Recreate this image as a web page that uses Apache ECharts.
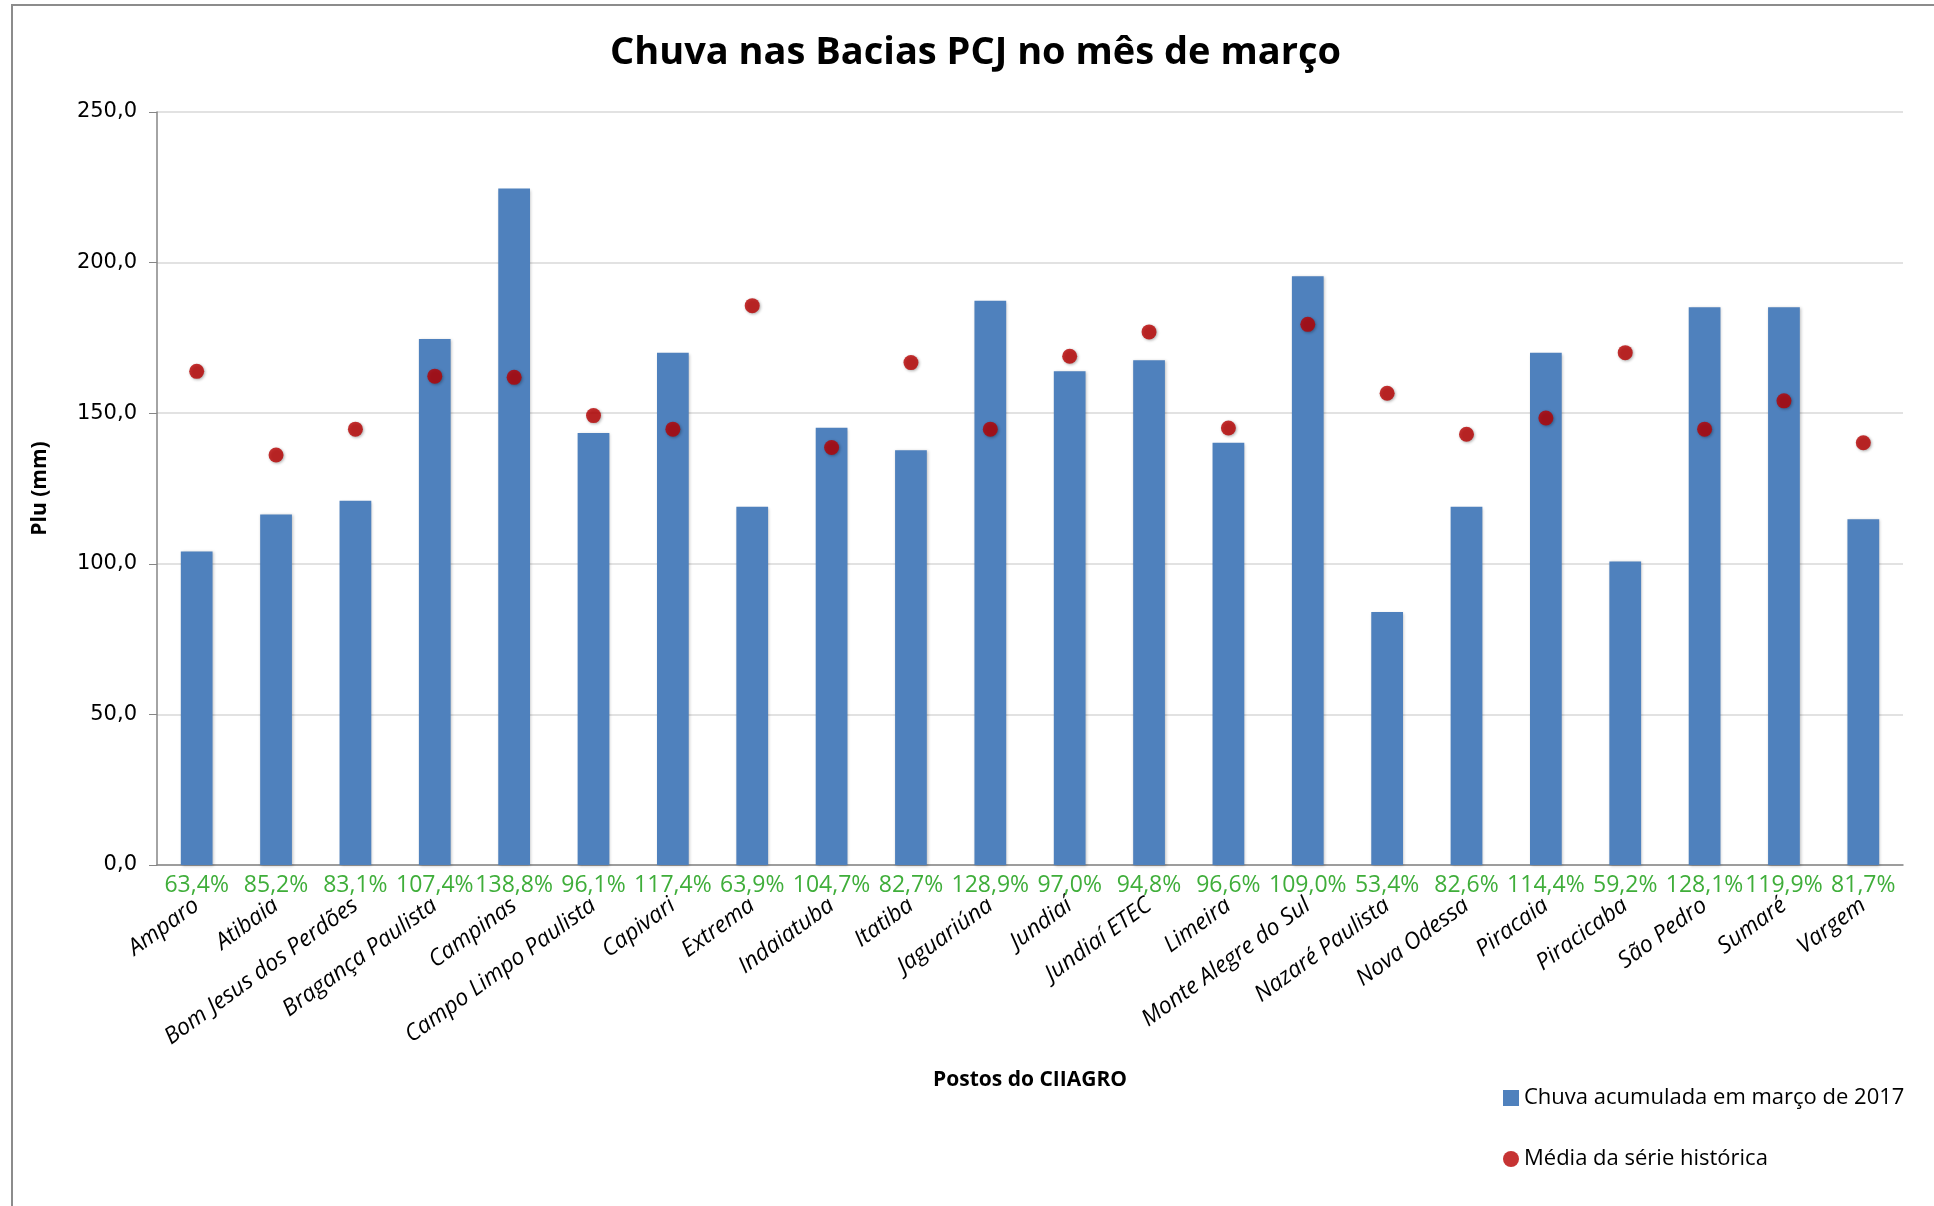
<!DOCTYPE html>
<html>
<head>
<meta charset="utf-8">
<script src="https://cdn.jsdelivr.net/npm/echarts@6/dist/echarts.min.js"></script>
<style>
html,body{margin:0;padding:0;background:#fff;}
#chart{width:1934px;height:1206px;}
</style>
</head>
<body>
<div id="chart"></div>
<script>
const categories = ['Amparo','Atibaia','Bom Jesus dos Perdões','Bragança Paulista','Campinas','Campo Limpo Paulista','Capivari','Extrema','Indaiatuba','Itatiba','Jaguariúna','Jundiaí','Jundiaí ETEC','Limeira','Monte Alegre do Sul','Nazaré Paulista','Nova Odessa','Piracaia','Piracicaba','São Pedro','Sumaré','Vargem'];
const rain2017 = [104.1,116.4,120.9,174.6,224.6,143.4,170.1,118.9,145.2,137.7,187.3,163.9,167.6,140.2,195.5,84.0,118.9,170.1,100.8,185.2,185.2,114.8];
const historicalMean = [163.9,136.1,144.7,162.3,161.9,149.2,144.7,185.7,138.6,166.8,144.7,168.9,177.0,145.1,179.5,156.6,143.0,148.4,170.1,144.7,154.1,140.2];
const pctLabels = ['63,4%','85,2%','83,1%','107,4%','138,8%','96,1%','117,4%','63,9%','104,7%','82,7%','128,9%','97,0%','94,8%','96,6%','109,0%','53,4%','82,6%','114,4%','59,2%','128,1%','119,9%','81,7%'];
const yMin = 0, yMax = 250, yStep = 50;
const seriesNames = ['Chuva acumulada em março de 2017','Média da série histórica'];

const chart = echarts.init(document.getElementById('chart'));
const axisGray = '#868686';
chart.setOption({
  backgroundColor:'#fff',
  animation:false,
  graphic:[{type:'rect',z:-1,shape:{x:12,y:5,width:1960,height:1260},style:{fill:'none',stroke:'#8c8c8c',lineWidth:2}}],
  title:{text:'Chuva nas Bacias PCJ no mês de março',left:605,top:29,
    textStyle:{fontFamily:'Open Sans',fontWeight:'bold',fontSize:38,color:'#000'}},
  legend:{orient:'vertical',left:1498,top:1082,itemGap:39,itemWidth:16,itemHeight:16,
    textStyle:{fontFamily:'Open Sans',fontSize:22,color:'#000'},
    data:[{name:seriesNames[0],icon:'rect'},{name:seriesNames[1],icon:'circle'}]},
  grid:{left:157,right:31,top:112,bottom:341,containLabel:false},
  xAxis:[{
    type:'category',data:categories,position:'bottom',offset:0,
    name:'Postos do CIIAGRO',nameLocation:'middle',nameGap:205,
    nameTextStyle:{fontFamily:'Open Sans',fontWeight:'bold',fontSize:21,color:'#000'},
    axisLine:{lineStyle:{color:axisGray,width:1.5}},
    axisTick:{length:9,lineStyle:{color:axisGray}},
    axisLabel:{rotate:36,margin:38,interval:0,fontFamily:'Open Sans',fontStyle:'italic',fontSize:23,color:'#000'}
  },{
    type:'category',data:categories,position:'bottom',offset:0,
    axisLine:{show:false},axisTick:{show:false},splitLine:{show:false},
    axisLabel:{interval:0,margin:9,fontFamily:'Open Sans',fontSize:23,color:'#3fae3a',
      formatter:(v,i)=>pctLabels[i]}
  }],
  yAxis:{type:'value',min:yMin,max:yMax,interval:yStep,
    name:'Plu (mm)',nameLocation:'middle',nameGap:106,
    nameTextStyle:{fontFamily:'Open Sans',fontWeight:'bold',fontSize:21,color:'#000'},
    axisLine:{show:true,lineStyle:{color:axisGray,width:1.5}},
    axisTick:{show:true,length:8,lineStyle:{color:axisGray}},
    splitLine:{lineStyle:{color:'#d9d9d9',width:1.5}},
    axisLabel:{margin:20,fontFamily:'DejaVu Sans',fontSize:21,color:'#000',
      formatter:v=>v.toFixed(1).replace('.',',')}
  },
  series:[{
    name:seriesNames[0],type:'bar',data:rain2017,barWidth:'40%',
    itemStyle:{color:'#4f81bd',shadowColor:'rgba(0,0,0,0.25)',shadowBlur:3,shadowOffsetX:1,shadowOffsetY:1}
  },{
    name:seriesNames[1],type:'scatter',data:historicalMean,symbol:'circle',symbolSize:15,
    itemStyle:{color:'#b80000',shadowColor:'rgba(0,0,0,0.4)',shadowBlur:3,shadowOffsetX:1,shadowOffsetY:1}
  }]
});
</script>
</body>
</html>
